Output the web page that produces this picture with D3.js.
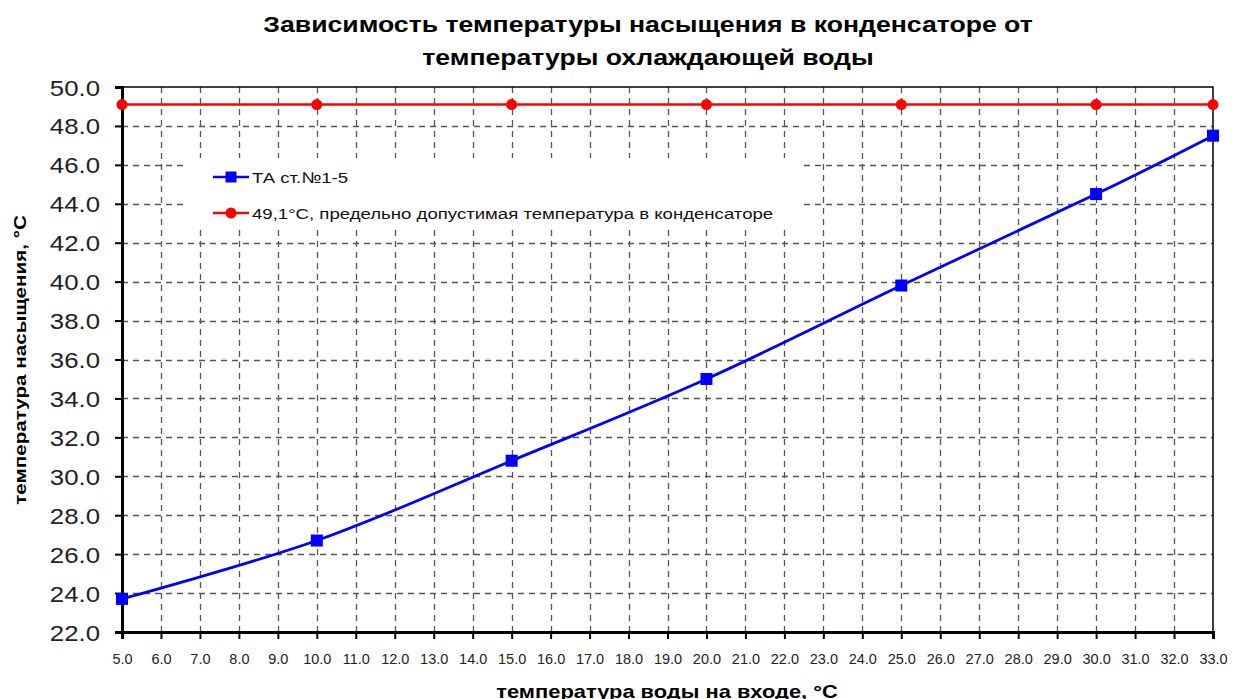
<!DOCTYPE html>
<html>
<head>
<meta charset="utf-8">
<script src="https://cdn.jsdelivr.net/npm/d3@7"></script>
<style>
  html, body { margin: 0; padding: 0; background: #fff; }
  svg { display: block; font-family: "Liberation Sans", Arial, sans-serif; }
</style>
</head>
<body>
<svg id="chart" width="1234" height="699"></svg>
<script>
// Water inlet temperature, °C
const waterTemp = [5, 10, 15, 20, 25, 30, 33];
// Saturation temperature in the condenser, turbine units 1-5
const saturationTemp = [23.7, 26.7, 30.8, 35.0, 39.8, 44.5, 47.5];
// Maximum permissible condenser temperature
const limitTemp = [49.1, 49.1, 49.1, 49.1, 49.1, 49.1, 49.1];

const xTicks = d3.range(5, 33.5, 1);
const yTicks = d3.range(22, 50.5, 2);

const titleLines = ["Зависимость температуры насыщения в конденсаторе от", "температуры охлаждающей воды"];
const seriesNames = ["ТА ст.№1-5", "49,1°С, предельно допустимая температура в конденсаторе"];
const xTitle = "температура воды на входе, °С";
const yTitle = "температура насыщения, °С";

const svg = d3.select("#chart");
const plot = { left: 122, right: 1213, top: 87, bottom: 632 };

const x = d3.scaleLinear().domain([5, 33]).range([plot.left, plot.right]);
const y = d3.scaleLinear().domain([22, 50]).range([plot.bottom, plot.top]);

// Title (wide-set text)
svg.append("g").selectAll("text").data(titleLines).join("text")
  .attr("transform", (d, i) => `translate(648,${32 + i * 33}) scale(1.21,1)`)
  .attr("text-anchor", "middle")
  .attr("font-size", 22).attr("font-weight", "bold")
  .text(d => d);

// Grid
const grid = svg.append("g").attr("stroke", "#555").attr("stroke-width", 1.3).attr("stroke-dasharray", "6,5");
grid.selectAll("line.v").data(xTicks.slice(1, -1)).join("line")
  .attr("x1", d => Math.round(x(d)) + 0.5).attr("x2", d => Math.round(x(d)) + 0.5)
  .attr("y1", plot.top).attr("y2", plot.bottom);
grid.selectAll("line.h").data(yTicks.slice(1, -1)).join("line")
  .attr("x1", plot.left).attr("x2", plot.right)
  .attr("y1", d => Math.round(y(d)) + 0.5).attr("y2", d => Math.round(y(d)) + 0.5);

// Plot frame
svg.append("rect")
  .attr("x", plot.left).attr("y", plot.top)
  .attr("width", plot.right - plot.left).attr("height", plot.bottom - plot.top)
  .attr("fill", "none").attr("stroke", "#000").attr("stroke-width", 1.5);

// Axes
const xAxis = svg.append("g").attr("transform", `translate(0,${plot.bottom})`)
  .call(d3.axisBottom(x).tickValues(xTicks).tickFormat(d3.format(".1f")).tickSize(7).tickPadding(15));
xAxis.select(".domain").attr("stroke-width", 3);
xAxis.selectAll(".tick line").attr("stroke-width", 2);
xAxis.selectAll(".tick text").attr("font-size", 14.5).attr("fill", "#222")
  .attr("font-family", "Liberation Sans, Arial, sans-serif");

const yAxis = svg.append("g").attr("transform", `translate(${plot.left},0)`)
  .call(d3.axisLeft(y).tickValues(yTicks).tickFormat(d3.format(".1f")).tickSize(7).tickPadding(0));
yAxis.select(".domain").attr("stroke-width", 3);
yAxis.selectAll(".tick line").attr("stroke-width", 2);
yAxis.selectAll(".tick text")
  .attr("x", null).attr("dy", null)
  .attr("font-size", 21.5).attr("fill", "#222")
  .attr("font-family", "Liberation Sans, Arial, sans-serif")
  .attr("transform", "translate(-22,8) scale(1.2,1)");

// Axis titles
svg.append("text")
  .attr("transform", "translate(667,698) scale(1.25,1)")
  .attr("text-anchor", "middle").attr("font-size", 17.5).attr("font-weight", "bold")
  .text(xTitle);
svg.append("text")
  .attr("transform", "translate(26,360) rotate(-90) scale(1.25,1)")
  .attr("text-anchor", "middle").attr("font-size", 16.5).attr("font-weight", "bold")
  .text(yTitle);

// Series
const limitData = waterTemp.map((d, i) => [d, limitTemp[i]]);
const satData = waterTemp.map((d, i) => [d, saturationTemp[i]]);

svg.append("path").datum(limitData)
  .attr("fill", "none").attr("stroke", "#ff0000").attr("stroke-width", 2.5)
  .attr("d", d3.line().x(d => x(d[0])).y(d => y(d[1])));
svg.append("g").selectAll("circle").data(limitData).join("circle")
  .attr("cx", d => x(d[0])).attr("cy", d => y(d[1])).attr("r", 5.5)
  .attr("fill", "#ff0000");

svg.append("path").datum(satData)
  .attr("fill", "none").attr("stroke", "#0000ff").attr("stroke-width", 2.8)
  .attr("d", d3.line().curve(d3.curveCardinal.tension(0)).x(d => x(d[0])).y(d => y(d[1])));
svg.append("g").selectAll("rect").data(satData).join("rect")
  .attr("x", d => x(d[0]) - 6).attr("y", d => y(d[1]) - 6)
  .attr("width", 12).attr("height", 12)
  .attr("fill", "#0000ff");

// Legend
const legend = svg.append("g");
legend.append("rect").attr("x", 188).attr("y", 158).attr("width", 612).attr("height", 69).attr("fill", "#fff");
const rows = legend.selectAll("g").data(seriesNames).join("g")
  .attr("transform", (d, i) => `translate(0,${177 + i * 36})`);
rows.append("line").attr("x1", 213).attr("x2", 249)
  .attr("stroke", (d, i) => i === 0 ? "#0000ff" : "#ff0000").attr("stroke-width", 2.5);
rows.each(function (d, i) {
  const g = d3.select(this);
  if (i === 0) {
    g.append("rect").attr("x", 225.5).attr("y", -5.5).attr("width", 11).attr("height", 11).attr("fill", "#0000ff");
  } else {
    g.append("circle").attr("cx", 231).attr("cy", 0).attr("r", 5.5).attr("fill", "#ff0000");
  }
});
rows.append("text")
  .attr("transform", "translate(252,5.5) scale(1.2,1)")
  .attr("font-size", 15.5).attr("fill", "#111")
  .text(d => d);
</script>
</body>
</html>
